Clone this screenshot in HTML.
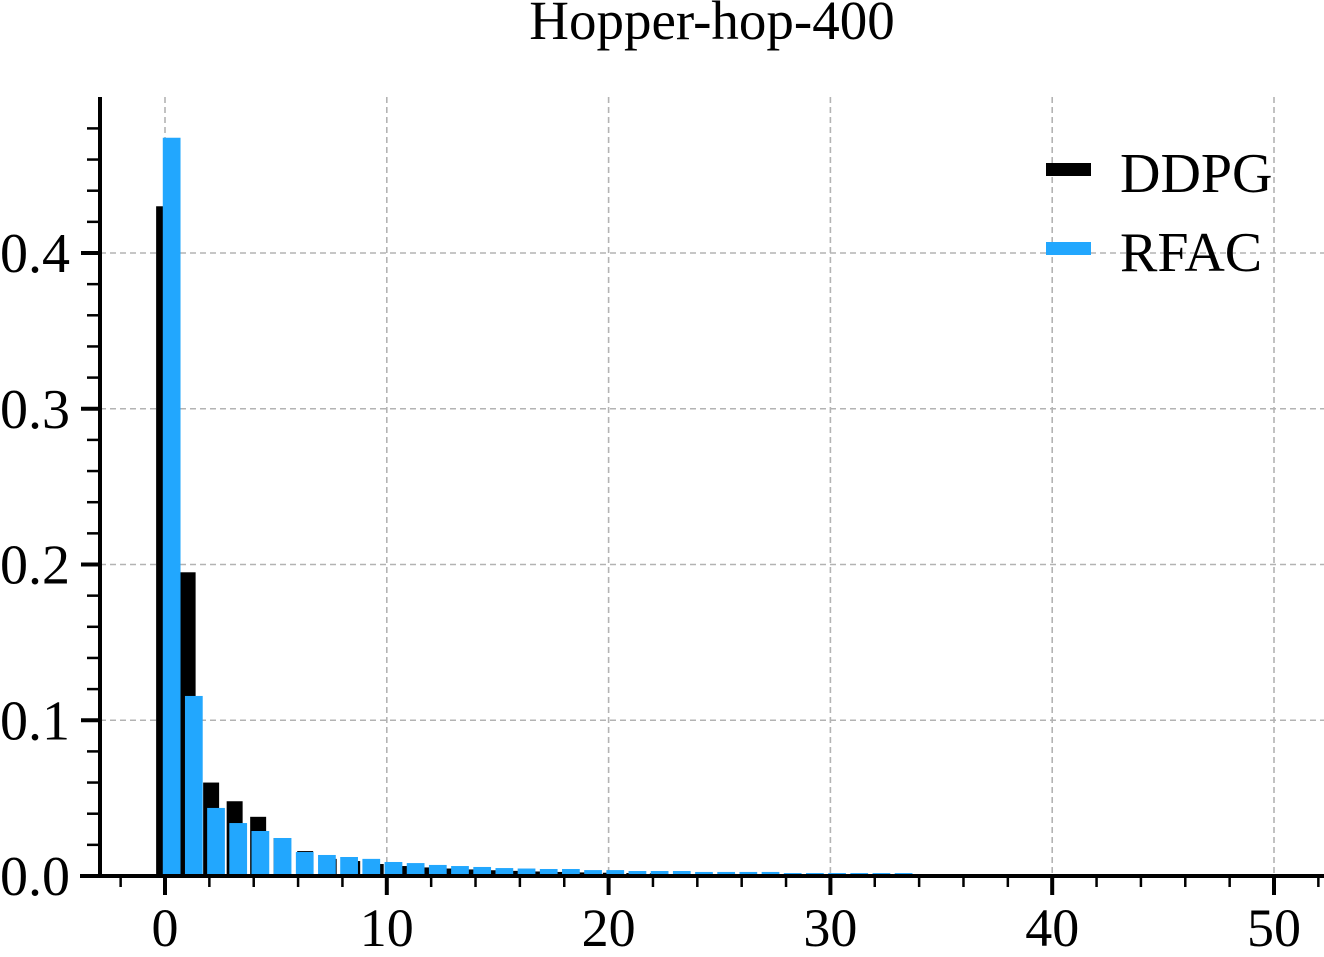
<!DOCTYPE html>
<html><head><meta charset="utf-8">
<style>
html,body{margin:0;padding:0;background:#fff;}
svg{display:block;font-family:"Liberation Serif",serif;}
</style></head>
<body>
<svg id="chart" width="1324" height="957" viewBox="0 0 1324 957" xmlns="http://www.w3.org/2000/svg">
<text x="712" y="39" font-size="55" text-anchor="middle">Hopper-hop-400</text>
<g id="grid"></g>
<g id="bars"></g>
<g id="axes"></g>
<g>
<rect x="1046" y="163" width="45" height="13" fill="#000"/>
<text x="1120" y="192" font-size="56">DDPG</text>
<rect x="1046" y="242" width="45" height="13" fill="#22a7fe"/>
<text x="1120" y="271" font-size="56">RFAC</text>
</g>
</svg>
<script>
const xTicks = [0,10,20,30,40,50];
const yTicks = [0.0,0.1,0.2,0.3,0.4];
const yTickLabels = ["0.0","0.1","0.2","0.3","0.4"];
const ddpgValues = [0.430,0.195,0.060,0.048,0.038,0.0244,0.016,0.011,0.0096,0.0077,0.0064,0.0055,0.0048,0.0042,0.0037,0.0033,0.0029,0.0026,0.0023,0.0021,0.0019,0.0017,0.0015,0.0014,0.0013,0.0012,0.0011,0.0010,0.0009,0.0008,0.0007,0.0006];
const rfacValues = [0.474,0.1156,0.0437,0.034,0.0289,0.0244,0.0154,0.0135,0.0122,0.011,0.009,0.0083,0.0071,0.0064,0.0058,0.0051,0.0048,0.0045,0.0045,0.0038,0.0038,0.0032,0.0032,0.0032,0.0026,0.0026,0.0026,0.0026,0.0019,0.0019,0.0019,0.0019,0.0019,0.0019];
const NS="http://www.w3.org/2000/svg";
const x = v => 165 + v*22.18;
const y = v => 876 - v*1557.5;
function mk(tag, attrs, parent){const e=document.createElementNS(NS,tag);for(const k in attrs)e.setAttribute(k,attrs[k]);parent.appendChild(e);return e;}
const grid=document.getElementById('grid'), bars=document.getElementById('bars'), axes=document.getElementById('axes');
xTicks.forEach(t=>{const l=mk('line',{x1:x(t),x2:x(t),y1:97,y2:876,stroke:'#b3b3b3','stroke-width':1.6,'stroke-dasharray':'6,4'},grid);

});
yTicks.forEach(t=>{if(t===0)return;const l=mk('line',{x1:100,x2:1324,y1:y(t),y2:y(t),stroke:'#b3b3b3','stroke-width':1.6,'stroke-dasharray':'6,4'},grid);

});
const dw=1.06;
ddpgValues.forEach((v,i)=>{const x0=x(i*dw-0.4),x1=x(i*dw-0.4+0.72);
const r=mk('rect',{x:x0,y:y(v),width:x1-x0,height:876-y(v),fill:'#000'},bars);

});
rfacValues.forEach((v,i)=>{const x0=x(i-0.1),x1=x(i+0.7);
const r=mk('rect',{x:x0,y:y(v),width:x1-x0,height:876-y(v),fill:'#22a7fe'},bars);

});
let s=mk('line',{x1:100,x2:100,y1:97,y2:878,stroke:'#000','stroke-width':4},axes);


s=mk('line',{x1:80,x2:1324,y1:876,y2:876,stroke:'#000','stroke-width':4},axes);


for(let v=-2;v<=52;v+=2){const major=v%10===0;const t=mk('line',{x1:x(v),x2:x(v),y1:876,y2:major?895:887,stroke:'#000','stroke-width':major?4:2.5},axes);

}
xTicks.forEach(t=>{const e=mk('text',{x:x(t),y:946,'font-size':54,'text-anchor':'middle'},axes);e.textContent=String(t);

});
for(let k=0;k<=24;k++){const v=k*0.02;const major=k%5===0;const t=mk('line',{x1:major?81:87,x2:100,y1:y(v),y2:y(v),stroke:'#000','stroke-width':major?4:2.5},axes);

}
yTicks.forEach((t,i)=>{const e=mk('text',{x:70,y:y(t)+19,'font-size':56,'text-anchor':'end'},axes);e.textContent=yTickLabels[i];

});
</script>
</body></html>
